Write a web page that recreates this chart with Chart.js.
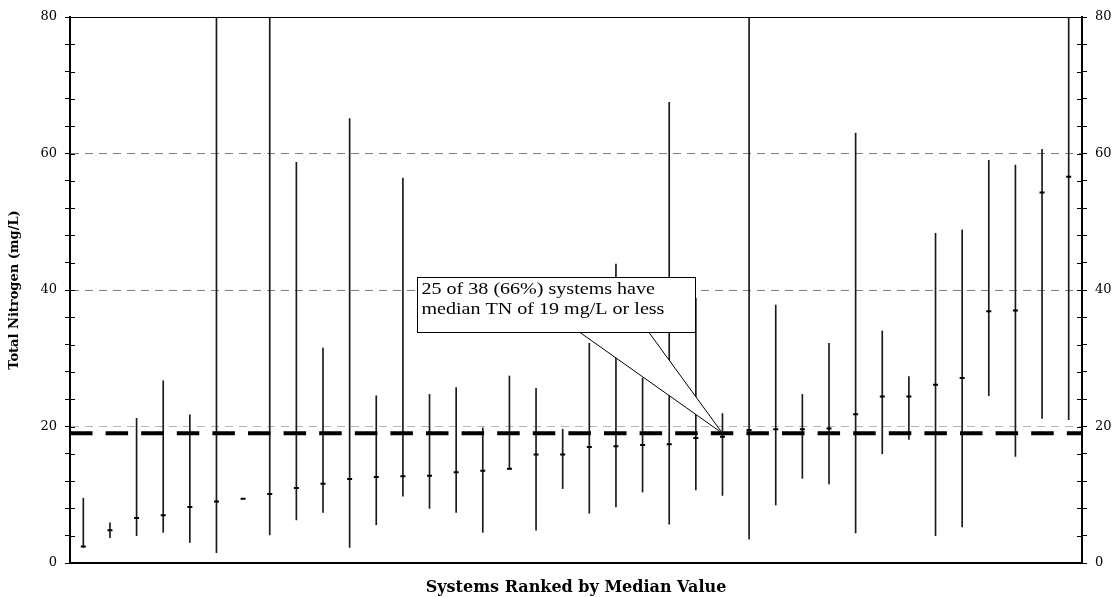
<!DOCTYPE html>
<html>
<head>
<meta charset="utf-8">
<script src="https://cdn.jsdelivr.net/npm/chart.js@4.4.0/dist/chart.umd.min.js"></script>
<style>
  html, body { margin: 0; padding: 0; background: #fff; }
  #wrap { width: 1117px; height: 597px; }
</style>
</head>
<body>
<div id="wrap"><canvas id="c" width="1117" height="597"></canvas></div>
<script>
// ---- Data ----
const systems = ['1','2','3','4','5','6','7','8','9','10','11','12','13','14','15','16','17','18','19',
                 '20','21','22','23','24','25','26','27','28','29','30','31','32','33','34','35','36','37','38'];
const minValues = [2.3, 3.7, 4.0, 4.5, 3.0, 1.5, 9.4, 4.1, 6.3, 7.4, 2.3, 5.6, 9.8, 8.0, 7.4, 4.5, 13.7, 4.8, 10.9,
                   7.3, 8.2, 10.4, 5.7, 10.7, 9.9, 3.5, 8.5, 12.4, 11.6, 4.4, 16.0, 18.1, 4.0, 5.3, 24.5, 15.6, 21.2, 21.0];
const maxValues = [9.5, 5.9, 21.2, 26.7, 21.7, 110, 9.4, 95, 58.7, 31.5, 65.1, 24.5, 56.4, 24.7, 25.7, 19.8, 27.4, 25.6, 19.6,
                   32.2, 43.8, 27.1, 67.5, 38.8, 21.9, 100, 37.8, 24.7, 32.2, 63.0, 34.0, 27.3, 48.3, 48.8, 59.0, 58.3, 60.6, 90];
const medianValues = [2.4, 4.8, 6.6, 7.0, 8.2, 9.0, 9.4, 10.1, 11.0, 11.6, 12.3, 12.6, 12.7, 12.8, 13.3, 13.5, 13.8, 15.9, 15.9,
                      17.0, 17.1, 17.3, 17.4, 18.3, 18.5, 19.5, 19.6, 19.6, 19.7, 21.8, 24.4, 24.4, 26.1, 27.1, 36.9, 37.0, 54.3, 56.6];
const yTickLabels = ['0', '20', '40', '60', '80'];
const thresholdValue = 19;
const calloutLines = ['25 of 38 (66%) systems have', 'median TN of 19 mg/L or less'];
const calloutTarget = { index: 24, value: 19 };

// ---- Chart ----
const ranges = minValues.map((m, i) => [m, maxValues[i]]);
const SERIF = '"DejaVu Serif", "Liberation Serif", serif';

function gridColor(c) {
  const v = c.tick ? c.tick.value : null;
  if (v === 20) return '#b4b4b4';
  if (v === 40 || v === 60) return '#808080';
  return 'rgba(0,0,0,0)';
}
const tickCb = v => (yTickLabels.includes(String(v)) ? String(v) : '');

const overlay = {
  id: 'overlay',
  afterDatasetsDraw(chart) {
    const { ctx, chartArea: a, scales: { x, y } } = chart;
    ctx.save();
    // top frame line
    ctx.strokeStyle = '#000';
    ctx.lineWidth = 1;
    ctx.beginPath();
    const topY = Math.round(y.getPixelForValue(80)) + 0.5;
    ctx.moveTo(a.left, topY); ctx.lineTo(a.right, topY);
    // inward tick marks (ticks cross the axes)
    y.ticks.forEach(t => {
      const py = Math.round(y.getPixelForValue(t.value)) + 0.5;
      ctx.moveTo(a.left, py); ctx.lineTo(a.left + 5, py);
      ctx.moveTo(a.right - 5, py); ctx.lineTo(a.right, py);
    });
    ctx.stroke();

    // threshold dashed line
    const ty = y.getPixelForValue(thresholdValue);
    ctx.lineWidth = 4;
    ctx.setLineDash([22.5, 13.1]);
    ctx.beginPath();
    ctx.moveTo(a.left, ty); ctx.lineTo(a.right, ty);
    ctx.stroke();

    // callout
    ctx.setLineDash([]);
    ctx.lineWidth = 1;
    const tipX = x.getPixelForValue(calloutTarget.index);
    const tipY = y.getPixelForValue(calloutTarget.value);
    const bx = 417.5, by = 277.5, bw = 278, bh = 55;
    const p1 = 580, p2 = 649;
    ctx.fillStyle = '#fff';
    ctx.beginPath();
    ctx.moveTo(bx, by); ctx.lineTo(bx + bw, by); ctx.lineTo(bx + bw, by + bh);
    ctx.lineTo(p2, by + bh); ctx.lineTo(tipX, tipY); ctx.lineTo(p1, by + bh);
    ctx.lineTo(bx, by + bh); ctx.closePath();
    ctx.fill();
    ctx.strokeStyle = '#000';
    ctx.strokeRect(bx, by, bw, bh);
    ctx.beginPath();
    ctx.moveTo(p1, by + bh); ctx.lineTo(tipX, tipY); ctx.lineTo(p2, by + bh);
    ctx.stroke();

    ctx.fillStyle = '#000';
    ctx.font = '17px "Liberation Serif", serif';
    ctx.textBaseline = 'middle';
    ctx.textAlign = 'left';
    ctx.save();
    ctx.translate(421.5, 0);
    ctx.scale(1.18, 1);
    ctx.fillText(calloutLines[0], 0, 290);
    ctx.fillText(calloutLines[1], 0, 310);
    ctx.restore();
    ctx.restore();
  }
};

new Chart(document.getElementById('c'), {
  data: {
    labels: systems,
    datasets: [
      {
        type: 'bar', label: 'Range', data: ranges,
        backgroundColor: '#1a1a1a', borderWidth: 0, barThickness: 1, order: 2
      },
      {
        type: 'line', label: 'Median', data: medianValues, showLine: false,
        pointStyle: 'line', pointRadius: 2.5, pointHoverRadius: 2.5, pointBorderWidth: 2,
        pointBorderColor: '#000', pointBackgroundColor: '#000', order: 1
      }
    ]
  },
  options: {
    responsive: false,
    animation: false,
    devicePixelRatio: 1,
    events: [],
    layout: { padding: { top: 17, left: 0, right: 0, bottom: 0 } },
    plugins: { legend: { display: false }, tooltip: { enabled: false } },
    scales: {
      x: {
        type: 'category', offset: true,
        grid: { display: false },
        ticks: { display: false },
        border: { color: '#000', width: 2 },
        title: {
          display: true, text: 'Systems Ranked by Median Value', color: '#000',
          font: { family: SERIF, weight: 'bold', size: 16 }, padding: { top: 0, bottom: 0 }
        },
        afterFit(s) { s.height = 34; }
      },
      y: {
        position: 'left', min: 0, max: 80,
        ticks: { stepSize: 4, autoSkip: false, callback: tickCb, color: '#000',
                 font: { family: SERIF, size: 13 }, padding: 8 },
        grid: { color: gridColor, lineWidth: 1, tickColor: '#000', tickLength: 5, tickWidth: 1 },
        border: { color: '#000', width: 2, dash: [8, 6] },
        title: {
          display: true, text: 'Total Nitrogen (mg/L)', color: '#000',
          font: { family: SERIF, weight: 'bold', size: 13 }, padding: { top: 7, bottom: 0 }
        },
        afterFit(s) { s.width = 70; }
      },
      y2: {
        position: 'right', min: 0, max: 80,
        ticks: { stepSize: 4, autoSkip: false, callback: tickCb, color: '#000',
                 font: { family: SERIF, size: 13 }, padding: 8 },
        grid: { drawOnChartArea: false, tickColor: '#000', tickLength: 5, tickWidth: 1 },
        border: { color: '#000', width: 2 },
        afterFit(s) { s.width = 35; }
      }
    }
  },
  plugins: [overlay]
});
</script>
</body>
</html>
